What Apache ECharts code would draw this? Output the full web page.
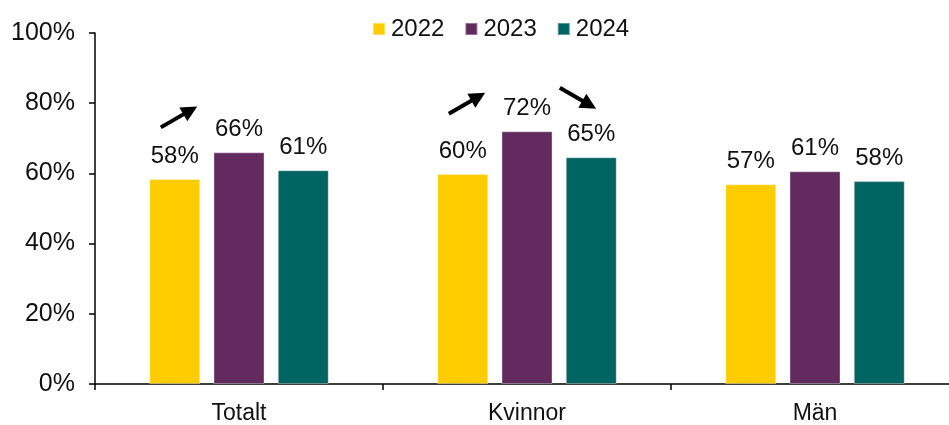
<!DOCTYPE html>
<html>
<head>
<meta charset="utf-8">
<script src="https://cdn.jsdelivr.net/npm/echarts@6/dist/echarts.min.js"></script>
<style>
  html, body { margin: 0; padding: 0; background: #fff; overflow: hidden; }
  #chart { width: 959px; height: 425px; }
</style>
</head>
<body>
<div id="chart"></div>
<script>
const categories = ['Totalt', 'Kvinnor', 'Män']
const years = ['2022', '2023', '2024']
const values2022 = [58.4, 59.8, 56.9]
const values2023 = [66.0, 72.0, 60.6]
const values2024 = [60.9, 64.6, 57.8]
const colors = ['#FFCC00', '#632A60', '#006462']
// arrows: category index, pixel offset from category centre, y value, direction
const arrows = [
  { cat: 0, dx: -60, y: 76.1, up: true },
  { cat: 1, dx: -60, y: 80.0, up: true },
  { cat: 1, dx: 51, y: 81.4, up: false }
]

const font = 'Liberation Sans, Arial, sans-serif'
const chart = echarts.init(document.getElementById('chart'))

function makeSeries(name, data, color) {
  return {
    name: name,
    type: 'bar',
    data: data,
    barWidth: 51,
    barGap: '26%',
    itemStyle: { color: color, borderColor: 'rgba(255,255,255,0.35)', borderWidth: 1 },
    label: {
      show: true,
      position: 'top',
      distance: 11,
      fontFamily: font,
      fontSize: 24,
      color: '#111',
      formatter: p => Math.round(p.value) + '%'
    }
  }
}

chart.setOption({
  animation: false,
  color: colors,
  legend: {
    top: 12,
    left: 367,
    icon: 'rect',
    itemWidth: 12,
    itemHeight: 12,
    itemGap: 20,
    textStyle: { fontFamily: font, fontSize: 24, color: '#111', padding: [0, 0, 0, 1] },
    data: years
  },
  grid: { left: 95, right: 0, top: 33, bottom: 37 },
  xAxis: {
    type: 'category',
    data: categories,
    axisLine: { lineStyle: { color: '#000', width: 1.5 } },
    axisTick: { show: true, length: 6, lineStyle: { color: '#000', width: 1.5 } },
    axisLabel: { fontFamily: font, fontSize: 23, color: '#111', margin: 18 }
  },
  yAxis: {
    type: 'value',
    min: 0,
    max: 100,
    interval: 20,
    axisLine: { show: true, lineStyle: { color: '#000', width: 1.5 } },
    axisTick: { show: true, length: 6, lineStyle: { color: '#000', width: 1.5 } },
    splitLine: { show: false },
    axisLabel: { fontFamily: font, fontSize: 25, color: '#111', margin: 20, formatter: '{value}%' }
  },
  series: [
    makeSeries(years[0], values2022, colors[0]),
    makeSeries(years[1], values2023, colors[1]),
    makeSeries(years[2], values2024, colors[2])
  ]
})

function arrowGraphic(a) {
  const c = chart.convertToPixel({ gridIndex: 0 }, [a.cat, a.y])
  const angle = a.up ? Math.PI / 6 : -Math.PI / 6
  return {
    type: 'group',
    x: c[0] + a.dx,
    y: c[1],
    rotation: angle,
    children: [
      { type: 'line', shape: { x1: -21, y1: 0, x2: 9, y2: 0 }, style: { stroke: '#000', lineWidth: 4 } },
      { type: 'polygon', shape: { points: [[21, 0], [5, -8], [5, 8]] }, style: { fill: '#000' } }
    ]
  }
}

chart.setOption({ graphic: arrows.map(arrowGraphic) })
</script>
</body>
</html>
